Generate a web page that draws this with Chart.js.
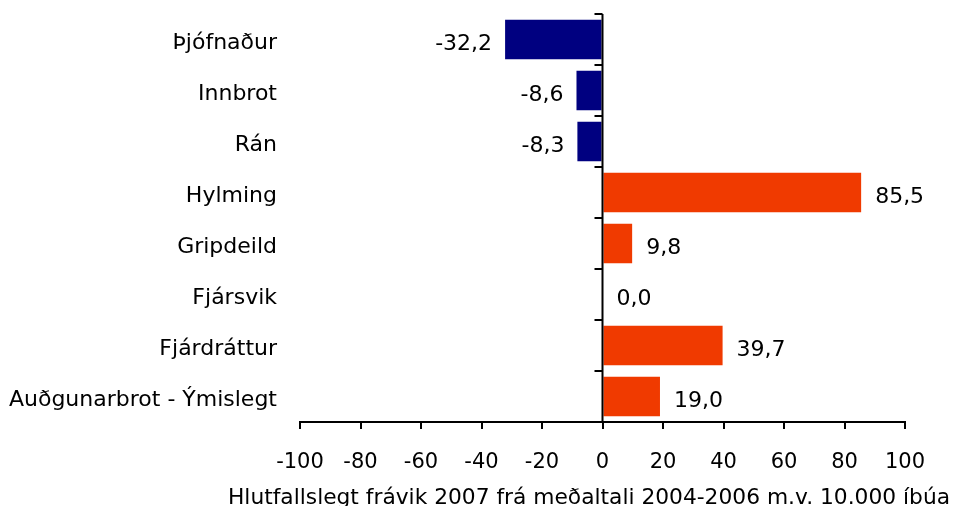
<!DOCTYPE html>
<html><head><meta charset="utf-8">
<script src="https://cdn.jsdelivr.net/npm/chart.js@4/dist/chart.umd.min.js"></script>
<style>html,body{margin:0;padding:0;background:#fff;}#wrap{width:954px;height:506px;}</style>
</head><body><div id="wrap"><canvas id="c" width="954" height="506"></canvas></div>
<script>
const categories = ["Þjófnaður","Innbrot","Rán","Hylming","Gripdeild","Fjársvik","Fjárdráttur","Auðgunarbrot - Ýmislegt"];
const values = [-32.2, -8.6, -8.3, 85.5, 9.8, 0.0, 39.7, 19.0];
const xTicks = [-100,-80,-60,-40,-20,0,20,40,60,80,100];
const axisTitle = "Hlutfallslegt frávik 2007 frá meðaltali 2004-2006 m.v. 10.000 íbúa";
const negColor = "#000080", posColor = "#F03A00";
const FONT = "'DejaVu Sans', Verdana, sans-serif";

const fmt = v => v.toFixed(1).replace('.', ',');

const extras = {
  id: 'extras',
  afterDatasetsDraw(chart) {
    const ctx = chart.ctx, xs = chart.scales.x, ys = chart.scales.y;
    const x0 = xs.getPixelForValue(0);
    ctx.save();
    // zero line
    ctx.strokeStyle = '#000'; ctx.lineWidth = 2;
    ctx.beginPath(); ctx.moveTo(x0, chart.chartArea.top); ctx.lineTo(x0, chart.chartArea.bottom); ctx.stroke();
    // tick marks at category boundaries
    const n = categories.length;
    const step = (ys.getPixelForValue(1) - ys.getPixelForValue(0));
    ctx.beginPath();
    for (let i = 0; i <= n; i++) {
      const y = Math.round(ys.getPixelForValue(0) + (i - 0.5) * step);
      ctx.moveTo(x0 - 8, y); ctx.lineTo(x0, y);
    }
    ctx.stroke();
    // data labels
    ctx.fillStyle = '#000'; ctx.font = '22px ' + FONT; ctx.textBaseline = 'middle';
    const meta = chart.getDatasetMeta(0);
    meta.data.forEach((bar, i) => {
      const v = values[i];
      const y = bar.y + 5;
      if (v < 0) { ctx.textAlign = 'right'; ctx.fillText(fmt(v), bar.x - 13, y); }
      else { ctx.textAlign = 'left'; ctx.fillText(fmt(v), bar.x + 14, y); }
    });
    // axis title (wider than plot area)
    ctx.font = '22px ' + FONT; ctx.textAlign = 'center'; ctx.textBaseline = 'alphabetic';
    ctx.fillText(axisTitle, 589, 504, 722);
    ctx.restore();
  }
};

new Chart(document.getElementById('c'), {
  type: 'bar',
  data: {
    labels: categories,
    datasets: [{
      data: values,
      backgroundColor: values.map(v => v < 0 ? negColor : posColor),
      barPercentage: 0.77,
      categoryPercentage: 1.0,
      borderWidth: 0
    }]
  },
  options: {
    indexAxis: 'y',
    responsive: false,
    animation: false,
    devicePixelRatio: 1,
    layout: { padding: { top: 14, right: 49, left: 0, bottom: 0 } },
    plugins: { legend: { display: false }, tooltip: { enabled: false } },
    scales: {
      x: {
        min: -100, max: 100,
        afterBuildTicks: s => { s.ticks = xTicks.map(v => ({ value: v })); },
        afterFit: s => { s.height = 84; s.paddingLeft = 0; s.paddingRight = 0; },
        border: { display: true, color: '#000', width: 2 },
        grid: { drawOnChartArea: false, drawTicks: true, tickLength: 7, color: '#000', lineWidth: 2 },
        ticks: { color: '#000', font: { family: FONT, size: 21 }, padding: 21, maxRotation: 0, autoSkip: false },
        title: { display: false }
      },
      y: {
        afterFit: s => { s.width = 300; s.paddingTop = 0; s.paddingBottom = 0; },
        border: { display: false },
        grid: { display: false },
        ticks: { color: '#000', font: { family: FONT, size: 22 }, padding: 15, labelOffset: 4, autoSkip: false }
      }
    }
  },
  plugins: [extras]
});
</script></body></html>
